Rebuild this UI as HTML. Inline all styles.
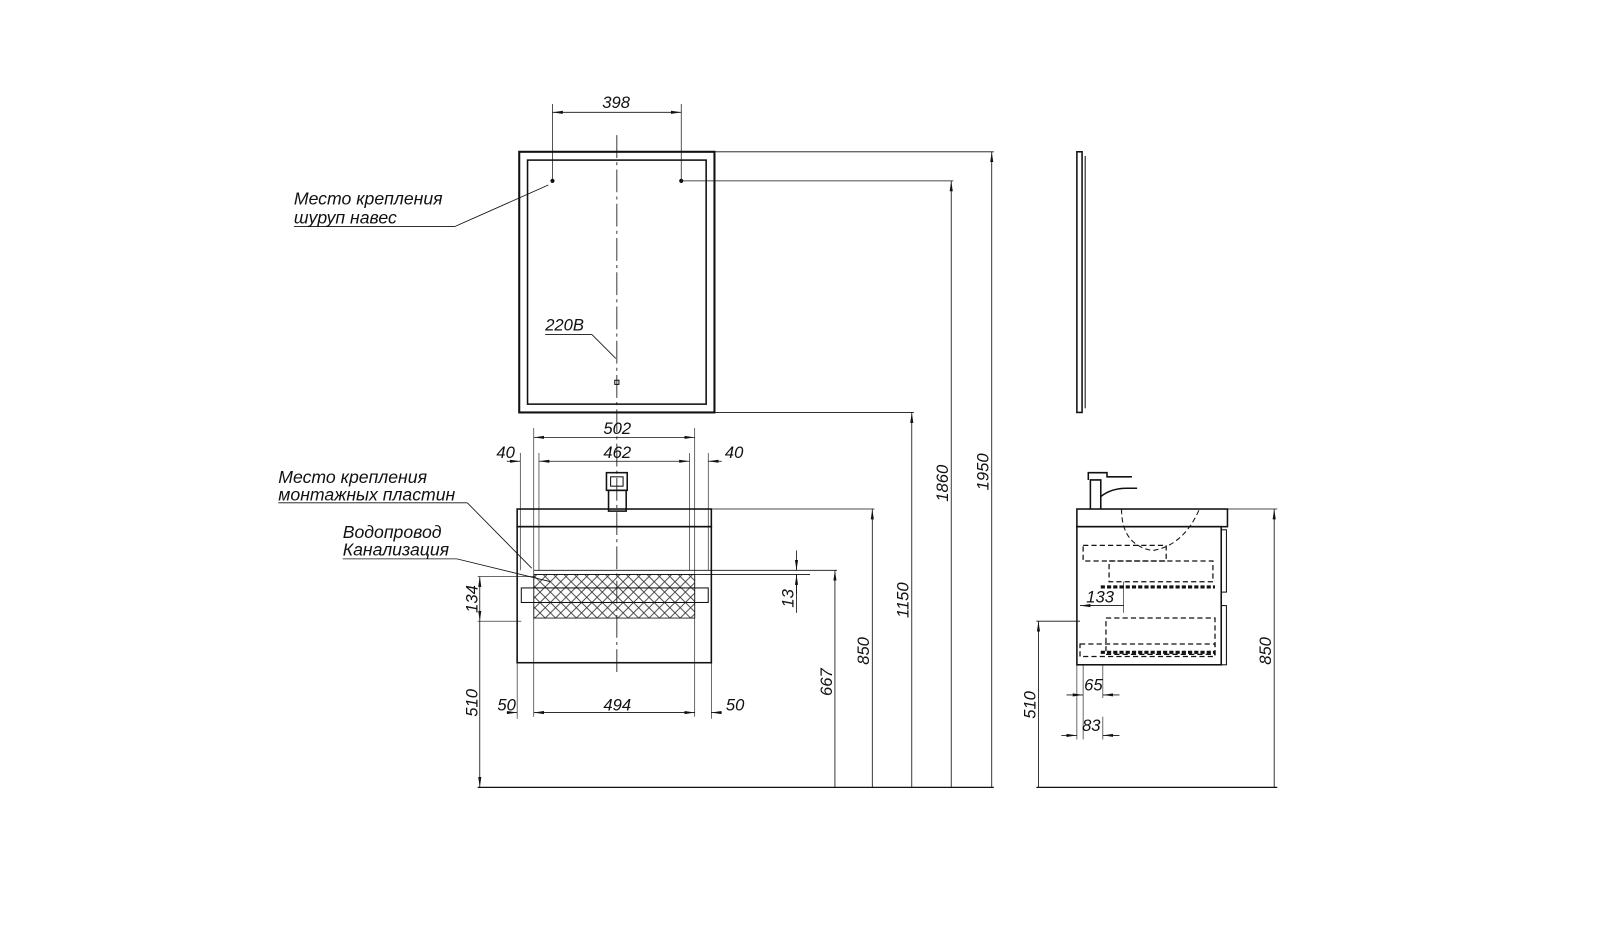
<!DOCTYPE html>
<html><head><meta charset="utf-8"><style>
html,body{margin:0;padding:0;background:#fff;}
svg{display:block}
text{font-family:"Liberation Sans",sans-serif;font-style:italic;fill:#111;}
</style></head><body>
<svg width="1620" height="936" viewBox="0 0 1560 901" xmlns="http://www.w3.org/2000/svg">
<defs>
<marker id="a" markerWidth="10" markerHeight="6" refX="10" refY="3" orient="auto-start-reverse" markerUnits="userSpaceOnUse"><path d="M0,1.5 L10,3 L0,4.5 Z" fill="#111"/></marker>
<pattern id="lat" width="10" height="10" patternUnits="userSpaceOnUse"><path d="M0,0 L10,10 M10,0 L0,10" stroke="#333" stroke-width="0.8"/></pattern>
</defs>
<g stroke="#111" fill="none" stroke-width="1">
<!-- mirror -->
<rect x="500" y="146" width="188" height="251" stroke-width="2"/>
<rect x="508" y="154" width="172" height="235" stroke-width="1.5"/>
<line x1="594" y1="130" x2="594" y2="648" stroke-dasharray="22,4,3,4" stroke-width="0.8"/>
<circle cx="532" cy="174" r="1.5" fill="#111"/><circle cx="656" cy="174" r="1.5" fill="#111"/>
<rect x="592" y="366" width="4" height="4"/>
<line x1="532" y1="100" x2="532" y2="174" stroke-width="0.7"/><line x1="656" y1="100" x2="656" y2="174" stroke-width="0.7"/>
<line x1="532" y1="108" x2="656" y2="108" marker-start="url(#a)" marker-end="url(#a)" stroke-width="0.8"/>
<line x1="438" y1="218" x2="528" y2="178" stroke-width="0.8"/><line x1="283" y1="218" x2="438" y2="218" stroke-width="0.8"/>
<line x1="525" y1="322" x2="570" y2="322" stroke-width="0.8"/><line x1="570" y1="322" x2="593" y2="345" stroke-width="0.8"/>
<!-- horizontal reference lines -->
<line x1="688" y1="146" x2="957" y2="146" stroke-width="0.8"/>
<line x1="656" y1="174" x2="918" y2="174" stroke-width="0.8"/>
<line x1="688" y1="397" x2="880" y2="397" stroke-width="0.8"/>
<line x1="685" y1="490" x2="842" y2="490" stroke-width="0.8"/>
<line x1="514" y1="549" x2="806" y2="549" stroke-width="0.8"/>
<line x1="514" y1="553" x2="780" y2="553" stroke-width="0.8"/>
<line x1="460" y1="758" x2="957" y2="758" stroke-width="1.2"/>
<line x1="955" y1="146" x2="955" y2="758" marker-start="url(#a)" stroke-width="0.8"/>
<line x1="916" y1="174" x2="916" y2="758" marker-start="url(#a)" stroke-width="0.8"/>
<line x1="878" y1="397" x2="878" y2="758" marker-start="url(#a)" stroke-width="0.8"/>
<line x1="840" y1="490" x2="840" y2="758" marker-start="url(#a)" stroke-width="0.8"/>
<line x1="804" y1="549" x2="804" y2="758" marker-start="url(#a)" stroke-width="0.8"/>
<line x1="767" y1="530" x2="767" y2="549" marker-end="url(#a)" stroke-width="0.8"/>
<line x1="767" y1="572" x2="767" y2="553" marker-end="url(#a)" stroke-width="0.8"/>
<line x1="767" y1="553" x2="767" y2="590" stroke-width="0.8"/>
<!-- cabinet -->
<rect x="498" y="490" width="187" height="17" stroke-width="1.5"/>
<rect x="498" y="507" width="187" height="131" stroke-width="1.5"/>
<rect x="514" y="553" width="155" height="42" fill="url(#lat)" stroke-width="0.8"/>
<rect x="502" y="566" width="180" height="14" stroke-width="1"/>
<rect x="586" y="472" width="17" height="20" stroke-width="1.5"/>
<rect x="584" y="455" width="20" height="17" stroke-width="1.5"/>
<rect x="588" y="459" width="12" height="9" stroke-width="1"/>
<!-- dims cabinet -->
<line x1="514" y1="412" x2="514" y2="690" stroke-width="0.6"/>
<line x1="669" y1="412" x2="669" y2="690" stroke-width="0.6"/>
<line x1="519" y1="436" x2="519" y2="549" stroke-width="0.6"/>
<line x1="664" y1="436" x2="664" y2="549" stroke-width="0.6"/>
<line x1="501" y1="436" x2="501" y2="549" stroke-width="0.6"/>
<line x1="682" y1="436" x2="682" y2="549" stroke-width="0.6"/>
<line x1="514" y1="421" x2="669" y2="421" marker-start="url(#a)" marker-end="url(#a)" stroke-width="0.8"/>
<line x1="488" y1="444" x2="501" y2="444" marker-end="url(#a)" stroke-width="0.8"/>
<line x1="519" y1="444" x2="664" y2="444" marker-start="url(#a)" marker-end="url(#a)" stroke-width="0.8"/>
<line x1="695" y1="444" x2="682" y2="444" marker-end="url(#a)" stroke-width="0.8"/>
<line x1="488" y1="686" x2="498" y2="686" marker-end="url(#a)" stroke-width="0.8"/>
<line x1="514" y1="686" x2="669" y2="686" marker-start="url(#a)" marker-end="url(#a)" stroke-width="0.8"/>
<line x1="695" y1="686" x2="685" y2="686" marker-end="url(#a)" stroke-width="0.8"/>
<line x1="498" y1="638" x2="498" y2="692" stroke-width="0.6"/><line x1="685" y1="638" x2="685" y2="692" stroke-width="0.6"/>
<line x1="460" y1="555" x2="514" y2="555" stroke-width="0.6"/><line x1="460" y1="598" x2="502" y2="598" stroke-width="0.6"/>
<line x1="462" y1="555" x2="462" y2="598" marker-start="url(#a)" marker-end="url(#a)" stroke-width="0.8"/>
<line x1="462" y1="598" x2="462" y2="758" marker-end="url(#a)" stroke-width="0.8"/>
<line x1="268" y1="484" x2="450" y2="484" stroke-width="0.8"/><line x1="450" y1="484" x2="512" y2="547" stroke-width="0.8"/>
<line x1="330" y1="538" x2="440" y2="538" stroke-width="0.8"/><line x1="440" y1="538" x2="530" y2="560" stroke-width="0.8"/>
<!-- side view -->
<rect x="1037" y="146" width="5" height="251" stroke-width="1.5"/><line x1="1045" y1="150" x2="1045" y2="393"/>
<rect x="1037" y="490" width="145" height="17" stroke-width="1.5"/>
<rect x="1037" y="507" width="139" height="133" stroke-width="1.5"/>
<rect x="1176" y="510" width="5" height="60"/><rect x="1176" y="583" width="5" height="57"/>
<path d="M1050,490 V462 H1060 V490 M1048,462 V455 H1066 V459 H1090 M1060,478 Q1070,470 1085,470 H1095" stroke-width="1.5"/>
<path d="M1080,490 Q1080,525 1110,530 Q1140,525 1155,490" stroke-dasharray="5,3"/>
<g stroke-dasharray="5,3" stroke-width="1.2">
<rect x="1043" y="525" width="80" height="15"/><rect x="1068" y="540" width="100" height="20"/>
<rect x="1065" y="595" width="105" height="35"/><rect x="1040" y="620" width="130" height="12"/>
</g>
<line x1="1060" y1="565" x2="1170" y2="565" stroke-width="3" stroke-dasharray="4,2"/>
<line x1="1060" y1="628" x2="1170" y2="628" stroke-width="3" stroke-dasharray="4,2"/>
<line x1="1182" y1="490" x2="1230" y2="490" stroke-width="0.8"/>
<line x1="1227" y1="490" x2="1227" y2="758" marker-start="url(#a)" stroke-width="0.8"/>
<line x1="998" y1="758" x2="1230" y2="758" stroke-width="1.2"/>
<line x1="998" y1="598" x2="1040" y2="598" stroke-width="0.8"/>
<line x1="1000" y1="598" x2="1000" y2="758" marker-start="url(#a)" stroke-width="0.8"/>
<line x1="1040" y1="583" x2="1082" y2="583" marker-start="url(#a)" stroke-width="0.8"/>
<line x1="1082" y1="560" x2="1082" y2="590" stroke-width="0.6"/>
<line x1="1043" y1="640" x2="1043" y2="712" stroke-width="0.6"/><line x1="1037" y1="640" x2="1037" y2="712" stroke-width="0.6"/>
<line x1="1062" y1="640" x2="1062" y2="672" stroke-width="0.6"/>
<line x1="1027" y1="669" x2="1043" y2="669" marker-end="url(#a)" stroke-width="0.8"/>
<line x1="1078" y1="669" x2="1062" y2="669" marker-end="url(#a)" stroke-width="0.8"/>
<line x1="1022" y1="708" x2="1037" y2="708" marker-end="url(#a)" stroke-width="0.8"/>
<line x1="1078" y1="708" x2="1062" y2="708" marker-end="url(#a)" stroke-width="0.8"/>
<line x1="1062" y1="690" x2="1062" y2="712" stroke-width="0.6"/>
</g>
<g font-size="17">
<text x="283" y="197">Место крепления</text><text x="283" y="215">шуруп навес</text>
<text x="268" y="465">Место крепления</text><text x="268" y="482">монтажных пластин</text>
<text x="330" y="518">Водопровод</text><text x="330" y="535">Канализация</text>
</g>
<g font-size="16">
<text x="525" y="318">220В</text>
<text x="580" y="104">398</text>
<text x="581" y="418">502</text><text x="581" y="441">462</text>
<text x="478" y="441">40</text><text x="698" y="441">40</text>
<text x="479" y="684">50</text><text x="581" y="684">494</text><text x="699" y="684">50</text>
<text transform="translate(460,590) rotate(-90)">134</text>
<text transform="translate(460,690) rotate(-90)">510</text>
<text transform="translate(764,585) rotate(-90)">13</text>
<text transform="translate(801,670) rotate(-90)">667</text>
<text transform="translate(837,640) rotate(-90)">850</text>
<text transform="translate(875,595) rotate(-90)">1150</text>
<text transform="translate(913,483) rotate(-90)">1860</text>
<text transform="translate(952,472) rotate(-90)">1950</text>
<text x="1046" y="580">133</text>
<text x="1044" y="665">65</text><text x="1042" y="704">83</text>
<text transform="translate(997,692) rotate(-90)">510</text>
<text transform="translate(1224,640) rotate(-90)">850</text>
</g>
</svg>
</body></html>
